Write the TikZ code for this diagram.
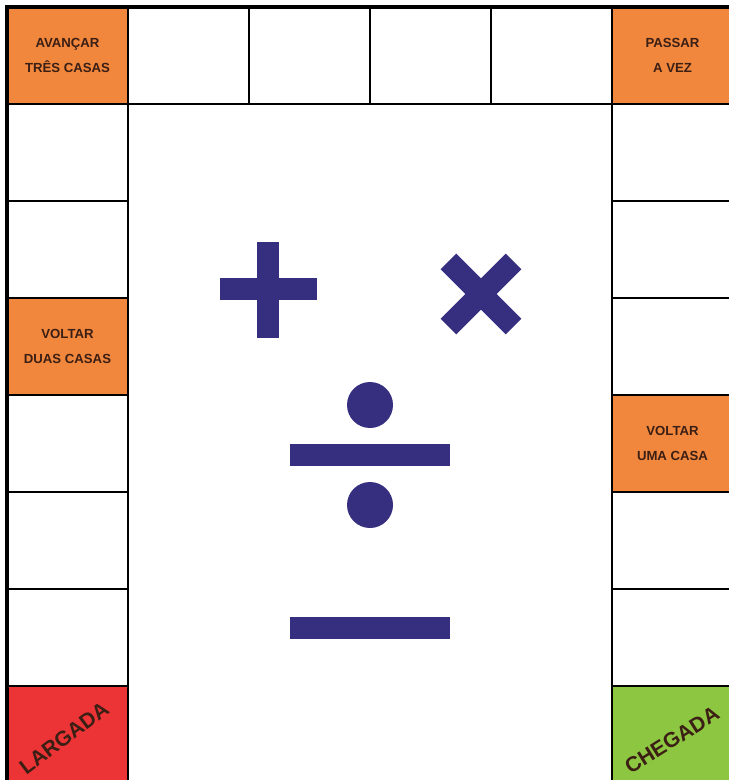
\documentclass[tikz,border=0pt]{standalone}
\usepackage{fontspec}
\setmainfont{Liberation Sans}
\usepackage{tikz}
\usetikzlibrary{positioning}
\definecolor{boxOrange}{HTML}{F0873D}
\definecolor{boxRed}{HTML}{EC3436}
\definecolor{boxGreen}{HTML}{8DC640}
\definecolor{signBlue}{HTML}{362F80}
\definecolor{inkBrown}{HTML}{3B1E14}

\begin{document}
\begin{tikzpicture}[x=0.02cm, y=-0.02cm,
  cell/.style={draw=black, line width=1.3pt, fill=white, outer sep=0pt, inner sep=0pt,
               minimum width=2.42cm, minimum height=1.94cm},
  task/.style={cell, fill=boxOrange, font=\bfseries\fontsize{7.5}{14}\selectfont,
               text=inkBrown, align=center},
  ends/.style={cell, font=\bfseries\fontsize{12}{12}\selectfont, text=inkBrown},
  sign/.style={fill=signBlue, draw=none}
]
\useasboundingbox (0,0) rectangle (729,780);
\fill[white] (0,0) rectangle (729,780);
\clip (0,0) rectangle (729,780);

% empty squares of the track
\foreach \i in {1,...,4}
  \node[cell] (top\i) at ({7+121*(\i+0.5)},55.5) {};
\foreach \j in {1,2,4,5,6}
  \node[cell] (left\j) at (67.5,{7+97*(\j+0.5)}) {};
\foreach \j in {1,2,3,5,6}
  \node[cell] (right\j) at (672.5,{7+97*(\j+0.5)}) {};

% special squares
\node[task] (avancar) at (67.5,55.5)   {AVANÇAR\\TRÊS CASAS};
\node[task] (passar)  at (672.5,55.5)  {PASSAR\\A VEZ};
\node[task] (voltar2) at (67.5,346.5)  {VOLTAR\\DUAS CASAS};
\node[task] (voltar1) at (672.5,443.5) {VOLTAR\\UMA CASA};
\node[ends, fill=boxRed]   (largada) at (67.5,734.5)  {};
\node[ends, fill=boxGreen] (chegada) at (672.5,734.5) {};
\node[rotate=37, inner sep=0pt, font=\bfseries\fontsize{12}{12}\selectfont, text=inkBrown]
  (lbllargada) at (64,738) {LARGADA};
\node[rotate=32, inner sep=0pt, font=\bfseries\fontsize{12}{12}\selectfont, text=inkBrown]
  (lblchegada) at (672,740) {CHEGADA};

% outer frame
\draw[line width=1.8pt] (7,783) -- (7,7) -- (733,7);

% operation signs
\fill[sign] (220,278) rectangle (317,300);
\fill[sign] (257,242) rectangle (279,338);
\fill[sign, rotate around={45:(481,294)}] (435,283) rectangle (527,305);
\fill[sign, rotate around={-45:(481,294)}] (435,283) rectangle (527,305);
\fill[sign] (290,444) rectangle (450,466);
\fill[sign] (370,405) circle (23);
\fill[sign] (370,505) circle (23);
\fill[sign] (290,617) rectangle (450,639);
\end{tikzpicture}
\end{document}
